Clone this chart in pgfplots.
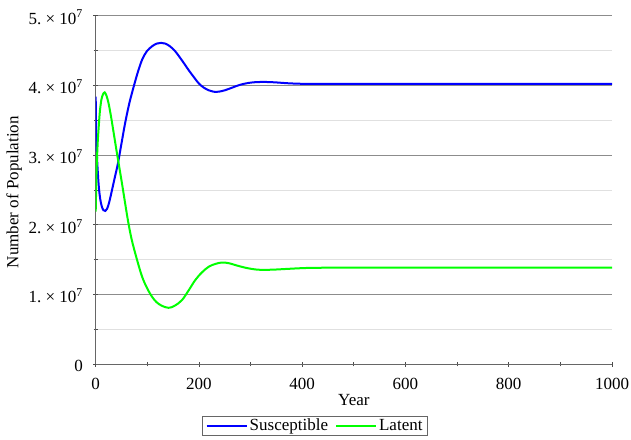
\documentclass[border=0pt]{standalone}
\usepackage{pgfplots}
\pgfplotsset{compat=1.18}
\usepackage{fontspec}
\setmainfont{Liberation Serif}

\definecolor{susc}{RGB}{0,0,255}
\definecolor{lat}{RGB}{0,255,0}

\begin{document}
\fontsize{17}{20}\selectfont
\begin{tikzpicture}
  \useasboundingbox (-95.7pt,-74.7pt) rectangle (535.3pt,364.3pt);
  \begin{axis}[
    scale only axis,
    width=516.3pt, height=348.6pt,
    xmin=0, xmax=1000, ymin=0, ymax=5e7,
    axis lines=left,
    axis line style={-, draw=black!60, line width=1.2pt},
    xtick={0,200,400,600,800,1000},
    xticklabels={0,200,400,600,800,1000},
    ytick={0,1e7,2e7,3e7,4e7,5e7},
    yticklabels={0,
      {1.\ ×\ 10\textsuperscript{7}},
      {2.\ ×\ 10\textsuperscript{7}},
      {3.\ ×\ 10\textsuperscript{7}},
      {4.\ ×\ 10\textsuperscript{7}},
      {5.\ ×\ 10\textsuperscript{7}}},
    scaled y ticks=false,
    minor x tick num=1, minor y tick num=1,
    tick align=center,
    major tick length=5pt, minor tick length=4pt,
    tick style={draw=black!70, line width=0.8pt},
    ymajorgrids, yminorgrids,
    major grid style={draw=black!45, line width=0.9pt},
    minor grid style={draw=black!12, line width=0.9pt},
    xticklabel style={anchor=center, yshift=-17.2pt},
    yticklabel style={anchor=east, xshift=-4.4pt, yshift=-1.5pt},
    every axis x label/.style={at={(axis description cs:0.5,-0.102)}, anchor=center},
    every axis y label/.style={at={(axis description cs:-0.158,0.494)}, rotate=90, anchor=center},
    xlabel={Year},
    ylabel={Number of Population},
    legend columns=2,
    legend style={at={(axis description cs:0.425,-0.177)}, anchor=center,
      draw=black!60, line width=1pt, inner xsep=3pt, inner ysep=0pt,
      /tikz/every even column/.append style={column sep=5pt}},
    legend image code/.code={\draw[#1] (0pt,0pt) -- (40pt,0pt);},
  ]
    \addplot[color=susc, line width=2pt, smooth, tension=0.55] coordinates {
      (0,3.84e7)(1,3.3e7)(3,2.9e7)(6,2.55e7)(9,2.36e7)(12,2.26e7)(15,2.21e7)
      (18.6,2.2e7)(22,2.23e7)(26,2.32e7)(31.6,2.5e7)(37,2.68e7)(43,2.88e7)
      (50,3.17e7)(57,3.46e7)(65,3.74e7)(73.5,3.98e7)(82,4.2e7)(90,4.37e7)
      (99,4.49e7)(109,4.56e7)(118,4.6e7)(126.5,4.61e7)(135,4.6e7)(144,4.56e7)
      (154,4.49e7)(167,4.36e7)(180,4.22e7)(190,4.12e7)(199.5,4.03e7)
      (209,3.97e7)(219,3.93e7)(228,3.91e7)(238,3.91e7)(250,3.93e7)
      (265,3.97e7)(280,4.01e7)(300,4.04e7)(321,4.05e7)(345,4.045e7)
      (375,4.03e7)(410,4.022e7)(480,4.022e7)(1000,4.022e7)};
    \addlegendentry{Susceptible}

    \addplot[color=lat, line width=2pt, smooth, tension=0.55] coordinates {
      (0,2.19e7)(1,2.55e7)(2,2.85e7)(4,3.2e7)(5.8,3.4e7)(8,3.62e7)
      (10.9,3.79e7)(14,3.87e7)(17.4,3.9e7)(21,3.85e7)(25,3.74e7)(30,3.54e7)
      (35,3.31e7)(40,3.08e7)(44.5,2.88e7)(51,2.59e7)(57,2.31e7)(63,2.04e7)
      (70,1.78e7)(80,1.5e7)(89.7,1.26e7)(99,1.1e7)(109,0.97e7)(118,0.89e7)
      (128,0.84e7)(141,0.81e7)(153,0.84e7)(167,0.92e7)(180,1.06e7)
      (193,1.21e7)(206,1.32e7)(219,1.4e7)(232,1.44e7)(244.6,1.46e7)
      (258,1.45e7)(272,1.42e7)(290,1.385e7)(310,1.36e7)(325,1.355e7)
      (345,1.358e7)(375,1.37e7)(410,1.382e7)(460,1.386e7)(520,1.387e7)
      (1000,1.387e7)};
    \addlegendentry{Latent}
  \end{axis}
\end{tikzpicture}
\end{document}
